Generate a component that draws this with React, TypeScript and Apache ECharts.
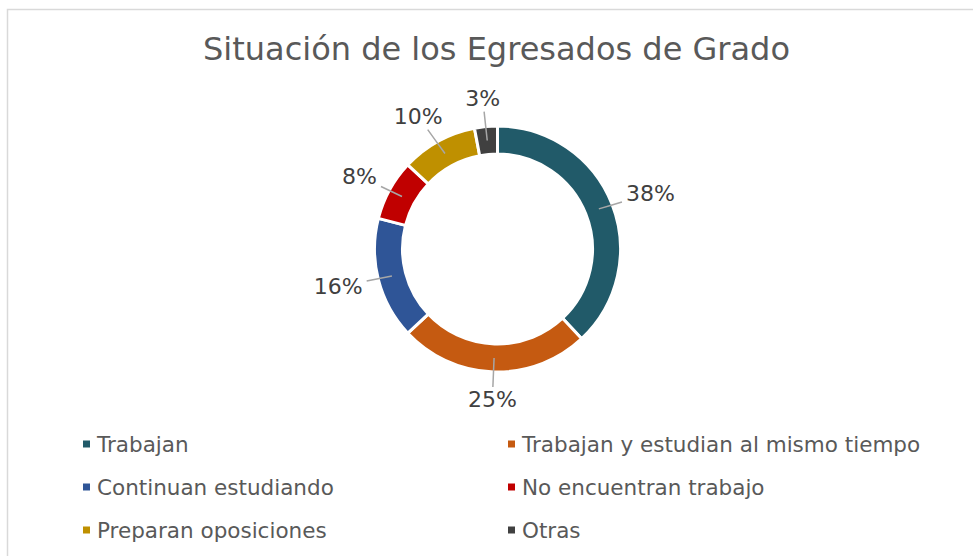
import React, { useEffect, useRef } from "react";
import * as echarts from "echarts";

const titleText = "Situación de los Egresados de Grado";
const categories = [
  "Trabajan",
  "Trabajan y estudian al mismo tiempo",
  "Continuan estudiando",
  "No encuentran trabajo",
  "Preparan oposiciones",
  "Otras",
];
const values = [38, 25, 16, 8, 10, 3];
const colors = ["#215A69", "#C55A11", "#2F5597", "#C00000", "#BF9000", "#404040"];
const leftLegend = ["Trabajan", "Continuan estudiando", "Preparan oposiciones"];
const rightLegend = ["Trabajan y estudian al mismo tiempo", "No encuentran trabajo", "Otras"];

const FONT = "'DejaVu Sans', Verdana, sans-serif";
const CX = 497.5;
const CY = 249;
const R_IN = 95;
const R_OUT = 123;
const R_MID = 109;
const R_LABEL = 140;

export default function App() {
  const ref = useRef<HTMLDivElement>(null);
  useEffect(() => {
    if (!ref.current) return;
    const chart = echarts.init(ref.current, undefined, { renderer: "svg" });
    const total = values.reduce((a, b) => a + b, 0);
    const midAngles: number[] = [];
    let cum = 0;
    values.forEach((v) => {
      midAngles.push(90 - (360 * (cum + v / 2)) / total);
      cum += v;
    });
    const data = categories.map((name, i) => ({ name, value: values[i] }));
    const legendCommon = {
      orient: "vertical" as const,
      icon: "rect",
      itemWidth: 7,
      itemHeight: 7,
      itemGap: 21,
      itemStyle: { borderWidth: 0 },
      textStyle: { fontFamily: FONT, fontSize: 21.5, color: "#595959", padding: [0, 0, 0, 2] },
      top: 428,
      selectedMode: false,
    };
    chart.setOption({
      animation: false,
      backgroundColor: "#ffffff",
      color: colors,
      title: {
        text: titleText,
        left: 198,
        top: 28,
        textStyle: { fontFamily: FONT, fontSize: 32, fontWeight: "normal", color: "#595959" },
      },
      graphic: [
        {
          type: "rect",
          shape: { x: 7.5, y: 9.5, width: 1000, height: 600 },
          style: { fill: "none", stroke: "#d9d9d9", lineWidth: 1.5 },
          silent: true,
        },
      ],
      legend: [
        { ...legendCommon, left: 78, data: leftLegend },
        { ...legendCommon, left: 503, data: rightLegend },
      ],
      series: [
        {
          type: "pie",
          center: [CX, CY],
          radius: [R_IN, R_OUT],
          startAngle: 90,
          clockwise: true,
          z: 2,
          itemStyle: { borderColor: "#ffffff", borderWidth: 3 },
          label: { show: false },
          labelLine: { show: false },
          data,
        },
        {
          type: "pie",
          center: [CX, CY],
          radius: [R_IN, R_OUT],
          startAngle: 90,
          clockwise: true,
          z: 5,
          silent: true,
          avoidLabelOverlap: false,
          itemStyle: { color: "rgba(0,0,0,0)", borderWidth: 0 },
          label: {
            show: true,
            position: "outside",
            formatter: "{d}%",
            fontFamily: FONT,
            fontSize: 22,
            color: "#404040",
          },
          labelLine: {
            show: true,
            length: 8,
            length2: 12,
            lineStyle: { color: "#a6a6a6", width: 1.5 },
          },
          labelLayout: (params: any) => {
            const i = params.dataIndex;
            const th = (midAngles[i] * Math.PI) / 180;
            const c = Math.cos(th);
            const s = Math.sin(th);
            const w = params.labelRect.width;
            const h = params.labelRect.height;
            const x = CX + R_LABEL * c + (w / 2) * c;
            const y = CY - R_LABEL * s - (h / 2) * s;
            const sx = CX + R_MID * c;
            const sy = CY - R_MID * s;
            const dx = sx - x;
            const dy = sy - y;
            const tx = Math.abs(dx) > 0.01 ? (w / 2 + 4) / Math.abs(dx) : Infinity;
            const ty = Math.abs(dy) > 0.01 ? (h / 2 + 2) / Math.abs(dy) : Infinity;
            const t = Math.min(tx, ty, 1);
            const ex = x + dx * t;
            const ey = y + dy * t;
            return {
              x,
              y,
              align: "center",
              verticalAlign: "middle",
              labelLinePoints: [
                [sx, sy],
                [(sx + ex) / 2, (sy + ey) / 2],
                [ex, ey],
              ],
            };
          },
          data,
        },
      ],
    });
    return () => chart.dispose();
  }, []);
  return (
    <div
      ref={ref}
      style={{ position: "fixed", left: 0, top: 0, width: 973, height: 556 }}
    />
  );
}
